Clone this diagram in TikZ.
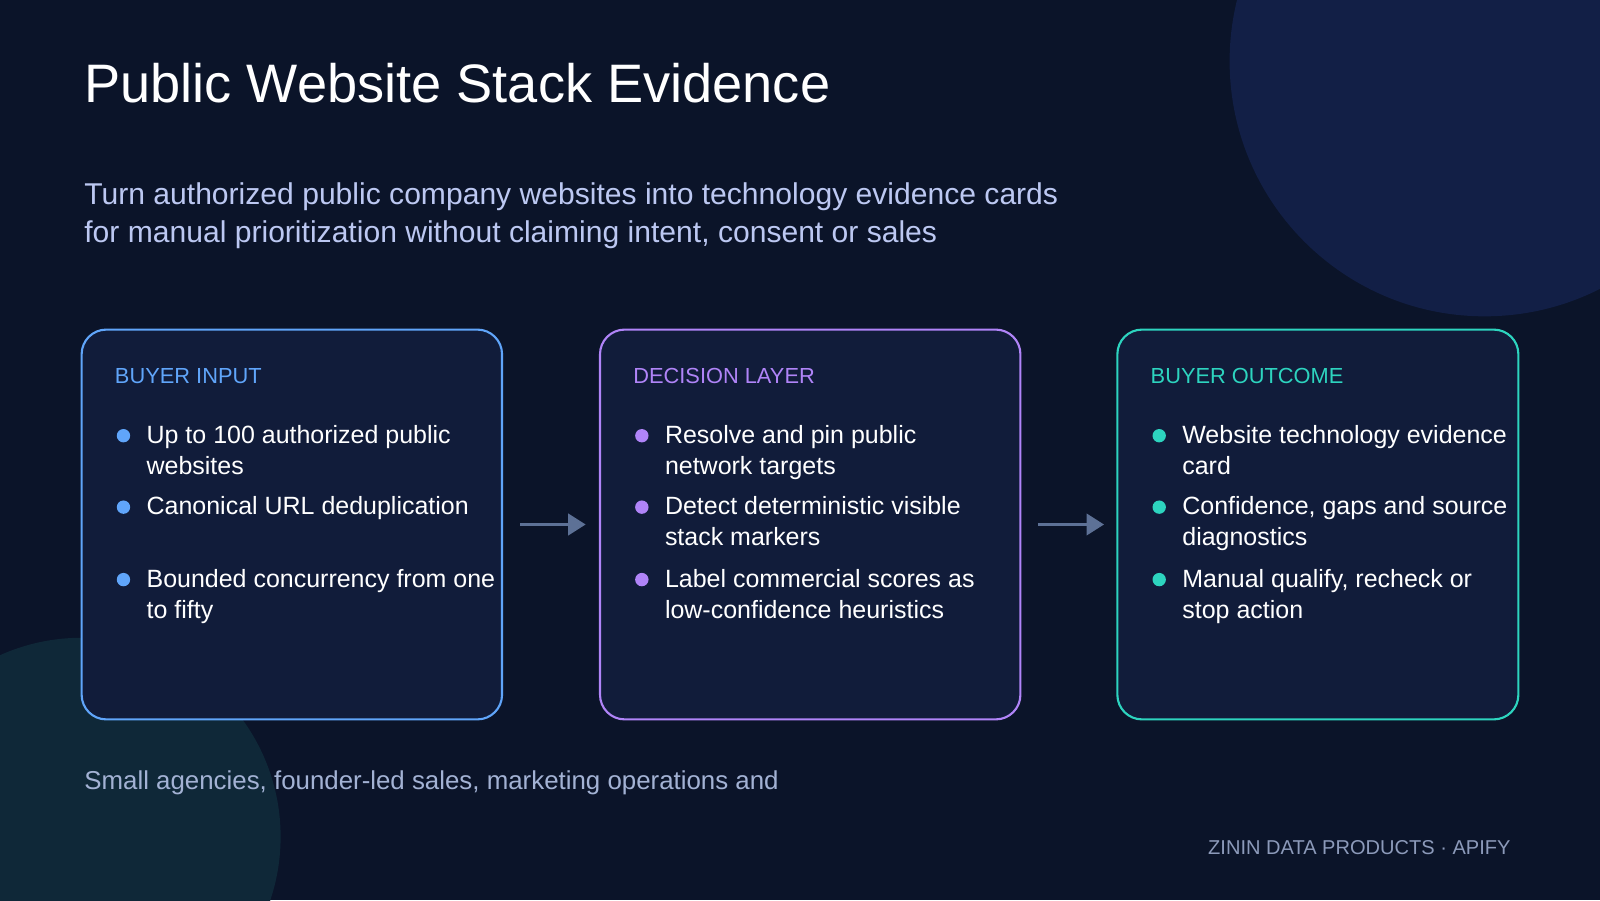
\documentclass[tikz,border=0pt]{standalone}
\usepackage{fontspec}
\setmainfont{Liberation Sans}
\usetikzlibrary{positioning,arrows.meta}
\definecolor{bgcol}{HTML}{0B1429}
\definecolor{cardcol}{HTML}{111C3A}
\definecolor{blobA}{HTML}{121F46}
\definecolor{blobB}{HTML}{0F2838}
\definecolor{inblue}{HTML}{60A5FA}
\definecolor{inpurple}{HTML}{B084F8}
\definecolor{inteal}{HTML}{2DD4BF}
\definecolor{subcol}{HTML}{BCC8F2}
\definecolor{footcol}{HTML}{A3B2D4}
\definecolor{arrcol}{HTML}{5D7196}
\tikzset{
  card/.style = {draw = #1, line width = 0.6pt, fill = cardcol, rounded corners = 7pt},
  cardlabel/.style = {anchor = base west, inner sep = 0, text = #1, font = \fontsize{6.2}{7}\selectfont},
  item/.style = {anchor = north west, inner sep = 0, align = left, text = white, font = \fontsize{7.1}{8.8}\selectfont},
  dot/.style = {circle, fill = #1, inner sep = 0, minimum size = 3.8pt},
  flow/.style = {draw = arrcol, line width = 1.1pt, -{Triangle[length = 5pt, width = 6pt]}}
}
\begin{document}
\begin{tikzpicture}[x = 0.0102cm, y = -0.0102cm]
\fill[bgcol] (0,0) rectangle (1568,882);
\useasboundingbox (0,0) rectangle (1568,882);
\begin{scope}
\clip (0,0) rectangle (1568,882);
\fill[blobA] (1455,60) circle (250);
\fill[blobB] (80,820) circle (195);
\end{scope}
% heading
\node[anchor = base west, inner sep = 0, text = white, font = \fontsize{15.4}{18}\selectfont] (title) at (82,100) {Public Website Stack Evidence};
\node[anchor = north west, inner sep = 0, align = left, text = subcol, font = \fontsize{8.55}{10.8}\selectfont] (sub) at (82,178) {Turn authorized public company websites into technology evidence cards\\for manual prioritization without claiming intent, consent or sales};
% cards
\draw[card = inblue] (80,323) rectangle (492,705);
\draw[card = inpurple] (588,323) rectangle (1000,705);
\draw[card = inteal] (1095,323) rectangle (1488,705);
\node[cardlabel = inblue] (inlabel) at (112,376) {BUYER INPUT};
\node[cardlabel = inpurple] (declabel) at (620,376) {DECISION LAYER};
\node[cardlabel = inteal] (outlabel) at (1127,376) {BUYER OUTCOME};
% buyer input
\node[dot = inblue] (d1) at (121,427) {};
\node[dot = inblue] (d2) at (121,497) {};
\node[dot = inblue] (d3) at (121,568) {};
\node[item] (i1) at (143,416) {Up to 100 authorized public\\websites};
\node[item] (i2) at (143,486) {Canonical URL deduplication};
\node[item] (i3) at (143,557) {Bounded concurrency from one\\to fifty};
% decision layer
\node[dot = inpurple] (e1) at (629,427) {};
\node[dot = inpurple] (e2) at (629,497) {};
\node[dot = inpurple] (e3) at (629,568) {};
\node[item] (j1) at (651,416) {Resolve and pin public\\network targets};
\node[item] (j2) at (651,486) {Detect deterministic visible\\stack markers};
\node[item] (j3) at (651,557) {Label commercial scores as\\low-confidence heuristics};
% buyer outcome
\node[dot = inteal] (f1) at (1136,427) {};
\node[dot = inteal] (f2) at (1136,497) {};
\node[dot = inteal] (f3) at (1136,568) {};
\node[item] (k1) at (1158,416) {Website technology evidence\\card};
\node[item] (k2) at (1158,486) {Confidence, gaps and source\\diagnostics};
\node[item] (k3) at (1158,557) {Manual qualify, recheck or\\stop action};
% arrows
\coordinate (a1) at (510,514);
\coordinate (a2) at (574,514);
\coordinate (b1) at (1017,514);
\coordinate (b2) at (1082,514);
\draw[flow] (a1) -- (a2);
\draw[flow] (b1) -- (b2);
% footer
\node[anchor = base west, inner sep = 0, text = footcol, font = \fontsize{7.35}{9}\selectfont] (foot) at (82,774) {Small agencies, founder-led sales, marketing operations and};
\node[anchor = base east, inner sep = 0, text = footcol!85!bgcol, font = \fontsize{5.7}{7}\selectfont] (brand) at (1481,837) {ZININ DATA PRODUCTS · APIFY};
\end{tikzpicture}
\end{document}
